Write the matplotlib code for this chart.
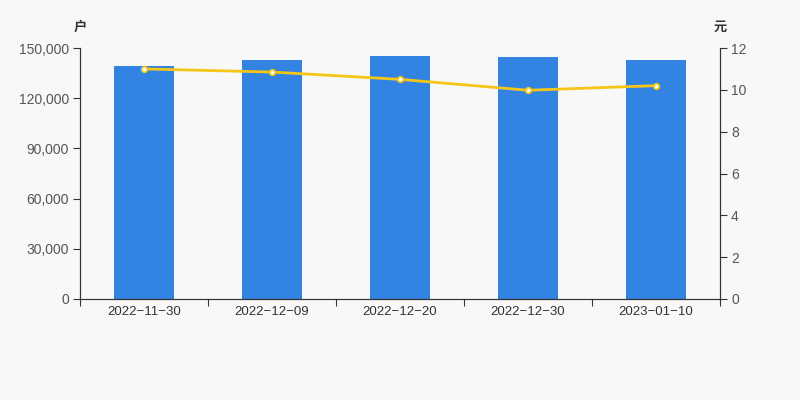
import numpy as np
import matplotlib
matplotlib.use("Agg")
import matplotlib.pyplot as plt

plt.rcParams['font.family'] = ['Liberation Sans', 'Noto Sans CJK SC', 'DejaVu Sans']

# data
dates = ["2022-11-30", "2022-12-09", "2022-12-20", "2022-12-30", "2023-01-10"]
holders = [139200, 142800, 145200, 144600, 142800]
price = [11.0, 10.85, 10.5, 9.98, 10.2]

bg = '#f8f8f8'
fig = plt.figure(figsize=(8, 4), dpi=100, facecolor=bg)
ax = fig.add_axes([0.1, 0.2525, 0.8, 0.6275], facecolor=bg)
ax2 = ax.twinx()

x = np.arange(len(dates))
ax.bar(x, holders, width=0.47, color='#3383e2', zorder=2)
ax2.plot(x, price, color='#f5c518', lw=2, marker='o', ms=4,
         mfc='white', mec='#f5c518', mew=1.2, zorder=3)

ax.set_xlim(-0.5, len(dates) - 0.5)
ax.set_ylim(0, 150000)
ax.set_yticks(np.arange(0, 150001, 30000))
ax.set_yticklabels(['{:,}'.format(v) for v in range(0, 150001, 30000)])
ax2.set_ylim(0, 12)
ax2.set_yticks(np.arange(0, 13, 2))

# x ticks between categories, labels at centers
ax.set_xticks(np.arange(-0.5, len(dates), 1))
ax.set_xticklabels([])
ax.set_xticks(x, minor=True)
ax.set_xticklabels([d.replace('-', '\u2212') for d in dates], minor=True)

for a in (ax, ax2):
    a.spines['top'].set_visible(False)
    for s in ('left', 'right', 'bottom'):
        a.spines[s].set_color('#333333')
    a.tick_params(colors='#333333', length=5)
    a.tick_params(axis='y', labelcolor='#555555', labelsize=10, pad=3)
ax.tick_params(axis='x', which='minor', length=0, pad=5,
               labelcolor='#333333', labelsize=9.5)

fig.text(80 / 800, 1 - 27 / 400, '户', fontsize=9.5, color='#333333', weight='bold',
         ha='center', va='center', family=['Noto Sans CJK SC', 'DejaVu Sans'])
fig.text(720 / 800, 1 - 27 / 400, '元', fontsize=9.5, color='#333333', weight='bold',
         ha='center', va='center', family=['Noto Sans CJK SC', 'DejaVu Sans'])

fig.savefig('out.png', dpi=100, facecolor=bg)
